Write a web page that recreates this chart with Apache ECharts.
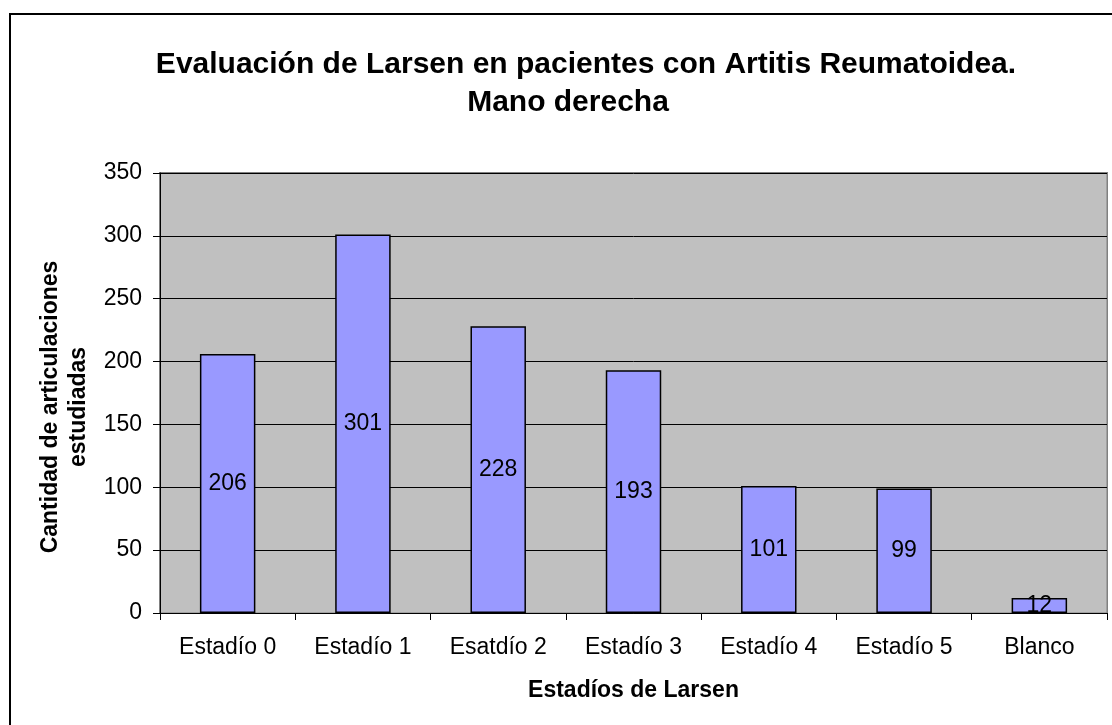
<!DOCTYPE html>
<html>
<head>
<meta charset="utf-8">
<script src="https://cdn.jsdelivr.net/npm/echarts@6/dist/echarts.min.js"></script>
<style>html,body{margin:0;padding:0;background:#fff}#c{width:1112px;height:725px}</style>
</head>
<body>
<div id="c"></div>
<script>
const titleLine1 = 'Evaluación de Larsen en pacientes con Artitis Reumatoidea.';
const titleLine2 = 'Mano derecha';
const categories = ['Estadío 0', 'Estadío 1', 'Esatdío 2', 'Estadío 3', 'Estadío 4', 'Estadío 5', 'Blanco'];
const values = [206, 301, 228, 193, 101, 99, 12];
const xAxisName = 'Estadíos de Larsen';
const yAxisName = 'Cantidad de articulaciones\nestudiadas';

const chart = echarts.init(document.getElementById('c'), null, {renderer: 'canvas'});
const font = 'Liberation Sans, Arial, sans-serif';
chart.setOption({
  animation: false,
  backgroundColor: '#ffffff',
  title: [
    {text: titleLine1, left: 581, top: 45, textAlign: 'center',
     textStyle: {fontFamily: font, fontSize: 30, fontWeight: 'bold', color: '#000'}},
    {text: titleLine2, left: 563, top: 83, textAlign: 'center',
     textStyle: {fontFamily: font, fontSize: 30, fontWeight: 'bold', color: '#000'}}
  ],
  graphic: [
    {type: 'rect', shape: {x: 10, y: 14, width: 1300, height: 900},
     style: {fill: 'none', stroke: '#000', lineWidth: 2}, silent: true, z: 100},
    {type: 'rect', shape: {x: 160, y: 173, width: 947, height: 440},
     style: {fill: 'none', stroke: '#808080', lineWidth: 2}, silent: true, z: -1}
  ],
  grid: {left: 160, top: 173, right: 5, bottom: 112, show: true, containLabel: false,
         outerBoundsMode: 'none',
         backgroundColor: '#c0c0c0', borderColor: '#808080', borderWidth: 1},
  xAxis: {
    type: 'category', data: categories,
    name: xAxisName, nameLocation: 'middle', nameGap: 66,
    nameTextStyle: {fontFamily: font, fontSize: 23, fontWeight: 'bold', color: '#000'},
    axisLine: {lineStyle: {color: '#000', width: 1}},
    axisTick: {show: true, length: 7, lineStyle: {color: '#000'}},
    axisLabel: {fontFamily: font, fontSize: 23, color: '#000', margin: 23}
  },
  yAxis: {
    type: 'value', min: 0, max: 350, interval: 50,
    name: yAxisName, nameLocation: 'middle', nameGap: 64, nameRotate: 90,
    nameTextStyle: {fontFamily: font, fontSize: 23, fontWeight: 'bold', color: '#000', lineHeight: 28, align: 'center', padding: [0, 0, 0, -28]},
    axisLine: {show: true, lineStyle: {color: '#000', width: 1}},
    axisTick: {show: true, length: 7, lineStyle: {color: '#000'}},
    axisLabel: {fontFamily: font, fontSize: 23, color: '#000', margin: 18},
    splitLine: {show: true, lineStyle: {color: '#000', width: 1}}
  },
  series: [{
    type: 'bar', data: values, barCategoryGap: '59%',
    itemStyle: {color: '#9999ff', borderColor: '#000', borderWidth: 1.5},
    label: {show: true, position: 'inside', fontFamily: font, fontSize: 23, color: '#000'}
  }]
});
</script>
</body>
</html>
